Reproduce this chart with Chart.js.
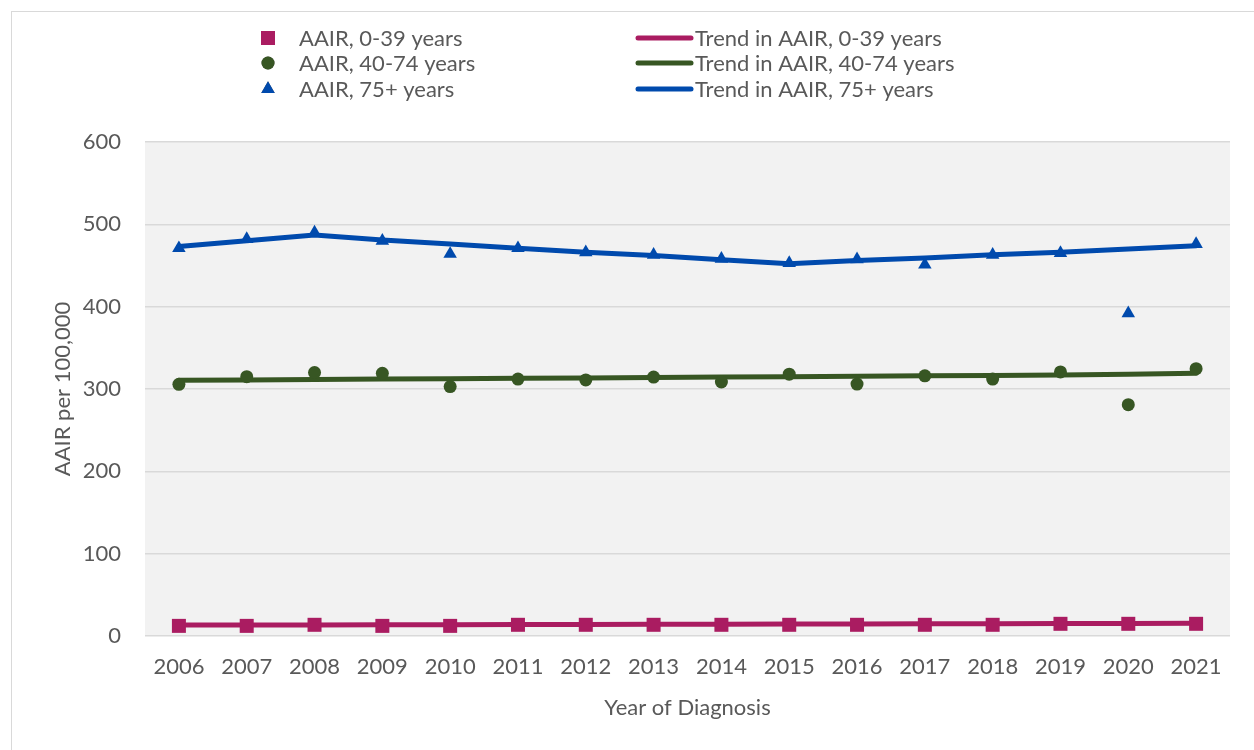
<!DOCTYPE html>
<html><head><meta charset="utf-8">
<script src="https://cdn.jsdelivr.net/npm/chart.js@4.4.0/dist/chart.umd.min.js"></script>
<style>html,body{margin:0;padding:0;background:#fff;}#wrap{width:1254px;height:750px;position:relative;}</style>
</head><body><div id="wrap"><canvas id="c" width="1254" height="750"></canvas></div>
<script>
const years = ['2006','2007','2008','2009','2010','2011','2012','2013','2014','2015','2016','2017','2018','2019','2020','2021'];
const aair0_39  = [12.3, 12.3, 13.6, 12.3, 12.3, 13.6, 13.6, 13.6, 13.6, 13.6, 13.6, 13.6, 13.6, 14.8, 14.8, 14.8];
const aair40_74 = [305.7, 315, 320, 319, 303, 312, 311, 314.5, 308.5, 318, 306, 316, 312, 320.7, 281, 324.7];
const aair75    = [471, 482, 490, 480, 464, 471, 466, 463, 458, 453, 457.5, 451, 463, 465, 392, 476];
const trend0_39  = [13.3, 13.4, 13.5, 13.7, 13.8, 13.9, 14.0, 14.2, 14.3, 14.5, 14.6, 14.8, 14.9, 15.1, 15.3, 15.5];
const trend40_74 = [310.5, 311, 311.5, 312, 312.5, 313, 313.5, 314, 314.5, 315, 315.5, 316, 316.5, 317, 318, 319];
const trend75    = [473, 480, 487, 481, 476, 471, 466, 462, 457, 452, 456, 459, 463, 466, 470, 474];
const yTicks = [0, 100, 200, 300, 400, 500, 600];
const seriesLabels = ['AAIR, 0-39 years','AAIR, 40-74 years','AAIR, 75+ years','Trend in AAIR, 0-39 years','Trend in AAIR, 40-74 years','Trend in AAIR, 75+ years'];

const PINK = '#AA1C61', GREEN = '#375623', BLUE = '#004AAD';
const FONT = 'Lato, "Open Sans", sans-serif';
const TXT = '#595959';
const FS = 22;

const bgPlugin = {
  id: 'bg',
  beforeDraw(chart) {
    const {ctx, chartArea: a} = chart;
    ctx.save();
    ctx.fillStyle = '#fff';
    ctx.fillRect(0, 0, chart.width, chart.height);
    ctx.fillStyle = '#F2F2F2';
    ctx.fillRect(a.left, a.top, a.right - a.left, a.bottom - a.top);
    ctx.strokeStyle = '#D9D9D9';
    ctx.lineWidth = 1;
    ctx.strokeRect(11.5, 11.5, chart.width + 20, chart.height + 20);
    ctx.restore();
  }
};

const legendPlugin = {
  id: 'customLegend',
  afterDraw(chart) {
    const ctx = chart.ctx;
    const ds = chart.data.datasets;
    const rows = [38, 63, 89];
    ctx.save();
    ctx.font = FS + 'px ' + FONT;
    ctx.fillStyle = TXT;
    ctx.textBaseline = 'middle';
    ctx.textAlign = 'left';
    for (let i = 0; i < 3; i++) {
      const d = ds[i];
      const y = rows[i];
      Chart.helpers.drawPoint(ctx, {pointStyle: d.pointStyle, radius: d.pointRadius, borderWidth: 0, rotation: 0}, 268, y);
      ctx.fillStyle = d.backgroundColor; ctx.fill();
      ctx.fillStyle = TXT;
      ctx.fillText(d.label, 299, y + 1);
    }
    for (let i = 3; i < 6; i++) {
      const d = ds[i];
      const y = rows[i - 3];
      ctx.beginPath();
      ctx.strokeStyle = d.borderColor;
      ctx.lineWidth = 5;
      ctx.lineCap = 'round';
      ctx.moveTo(638, y); ctx.lineTo(691, y);
      ctx.stroke();
      ctx.fillStyle = TXT;
      ctx.fillText(d.label, 695, y + 1);
    }
    ctx.restore();
  }
};

function markerDs(label, data, color, style, r) {
  return {label, data, showLine: false, pointStyle: style, pointRadius: r, pointHoverRadius: r,
    backgroundColor: color, borderColor: color, pointBorderWidth: 0, borderWidth: 0, order: 0};
}
function trendDs(label, data, color) {
  return {label, data, borderColor: color, backgroundColor: color, borderWidth: 5, pointRadius: 0,
    tension: 0, fill: false, order: 1, borderCapStyle: 'round', borderJoinStyle: 'round'};
}

new Chart(document.getElementById('c'), {
  type: 'line',
  data: {
    labels: years,
    datasets: [
      markerDs(seriesLabels[0], aair0_39, PINK, 'rect', 9.9),
      markerDs(seriesLabels[1], aair40_74, GREEN, 'circle', 6.5),
      markerDs(seriesLabels[2], aair75, BLUE, 'triangle', 7.8),
      trendDs(seriesLabels[3], trend0_39, PINK),
      trendDs(seriesLabels[4], trend40_74, GREEN),
      trendDs(seriesLabels[5], trend75, BLUE)
    ]
  },
  options: {
    responsive: false,
    animation: false,
    devicePixelRatio: 1,
    layout: {padding: {left: 40, top: 142, right: 24, bottom: 20}},
    plugins: {legend: {display: false}, tooltip: {enabled: false}},
    scales: {
      x: {
        type: 'category',
        offset: true,
        grid: {display: false, drawTicks: false},
        border: {display: false},
        ticks: {color: TXT, font: {family: FONT, size: FS}, padding: 18, maxRotation: 0, autoSkip: false},
        title: {display: true, text: 'Year of Diagnosis', color: TXT, font: {family: FONT, size: FS}, padding: {top: 0, bottom: 9}},
        afterFit(s) { s.height = 94; }
      },
      y: {
        min: 0, max: 600,
        afterBuildTicks(s) { s.ticks = yTicks.map(v => ({value: v})); },
        grid: {color: '#D9D9D9', lineWidth: 1.5, drawTicks: false},
        border: {display: false},
        ticks: {color: TXT, font: {family: FONT, size: FS}, padding: 24},
        title: {display: true, text: 'AAIR per 100,000', color: TXT, font: {family: FONT, size: FS}, padding: {top: 10, bottom: 0}},
        afterFit(s) { s.width = 105; }
      }
    }
  },
  plugins: [bgPlugin, legendPlugin]
});
</script>
</body></html>
